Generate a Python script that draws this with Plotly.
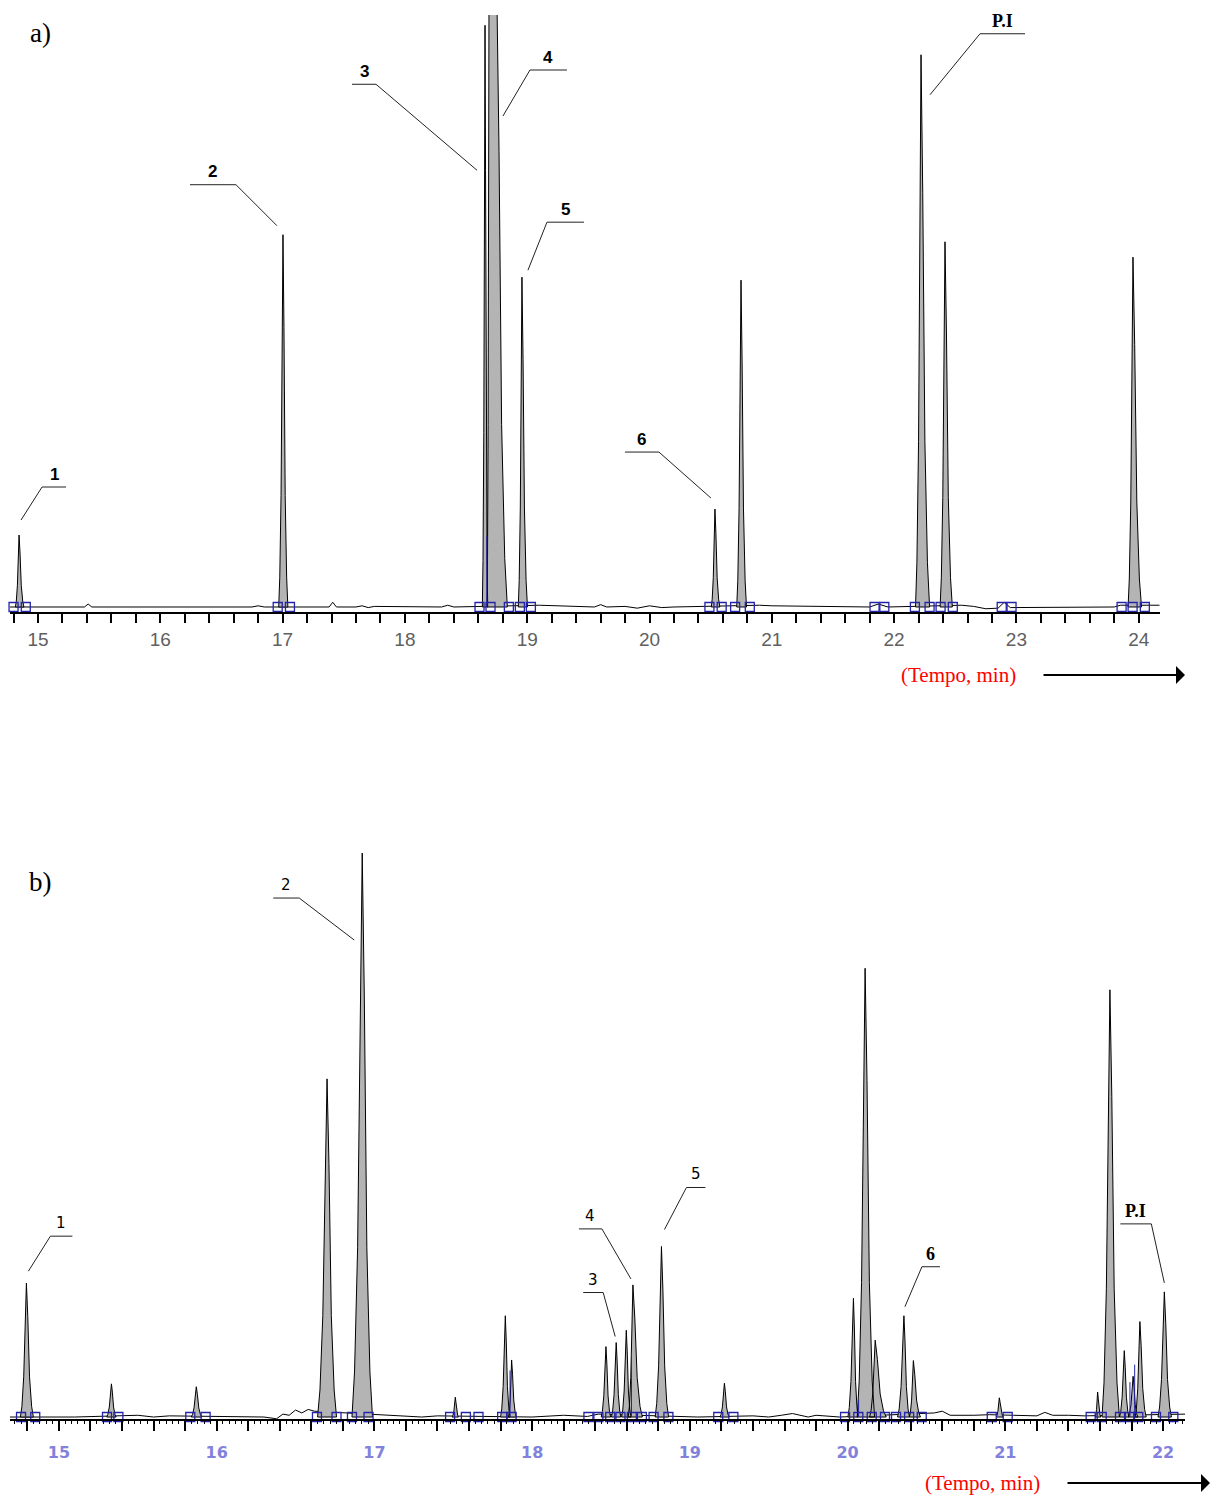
import plotly.graph_objects as go

W, H = 1211, 1500

# ---------------- Panel a) data (retention time in min, relative intensity) ----------------
a_peak_t   = [14.845, 17.003, 18.655, 18.720, 18.957, 20.535, 20.748, 22.220, 22.416, 23.953]
a_peak_h   = [12.2, 63.1, 98.6, 103.0, 55.9, 16.6, 55.4, 93.6, 61.9, 59.3]
a_peak_wl  = [0.030, 0.035, 0.022, 0.016, 0.030, 0.030, 0.035, 0.045, 0.040, 0.040]
a_peak_wr  = [0.040, 0.040, 0.022, 0.085, 0.045, 0.040, 0.045, 0.070, 0.060, 0.070]
a_peak_top = [0, 0, 0, 0.065, 0, 0, 0, 0, 0, 0]

a_base_t = [14.77, 15.38, 15.41, 15.44, 16.75, 16.80, 16.85, 17.38, 17.41, 17.44, 17.60, 17.65,
            17.70, 17.75, 18.30, 18.35, 18.40, 19.10, 19.55, 19.60, 19.65, 19.80, 19.90, 20.00,
            20.10, 20.20, 20.90, 21.00, 21.80, 21.87, 21.95, 22.55, 22.65, 22.75, 22.85, 22.90,
            22.95, 23.80, 23.85, 24.17]
a_base_y = [0, 0, 0.5, 0, 0, 0.2, 0, 0, 0.8, 0, 0, 0.2,
            -0.1, 0.1, 0, 0.3, 0, 0.3, 0, 0.4, 0, 0.1, -0.2, 0.2,
            -0.1, 0, 0.3, 0.2, 0, 0.5, 0, 0.3, 0.1, -0.3, -0.2, 0.8,
            -0.1, 0, 0.3, 0.3]

a_box_t = [14.80, 14.90, 16.96, 17.06, 18.61, 18.70, 18.85, 18.94, 19.03, 20.49, 20.59, 20.70,
           20.82, 21.84, 21.92, 22.17, 22.29, 22.38, 22.48, 22.88, 22.96, 23.86, 23.95, 24.05]
a_drop_t = [18.67]
a_drop_h = [12.0]

a_tick_vals = [15, 16, 17, 18, 19, 20, 21, 22, 23, 24]
a_tick_labels = ["15", "16", "17", "18", "19", "20", "21", "22", "23", "24"]

# ---------------- Panel b) data ----------------
b_peak_t  = [14.794, 15.333, 15.871, 16.700, 16.923, 17.513, 17.830, 17.870, 18.468, 18.533,
             18.597, 18.639, 18.820, 19.219, 20.037, 20.111, 20.175, 20.357, 20.417, 20.962,
             21.585, 21.663, 21.754, 21.810, 21.853, 22.008]
b_peak_h  = [23.0, 5.7, 5.2, 58.1, 96.9, 3.4, 17.4, 9.8, 12.1, 12.8,
             14.9, 22.7, 29.3, 5.8, 20.4, 77.1, 13.2, 17.4, 9.7, 3.3,
             4.3, 73.4, 11.4, 7.0, 16.4, 21.5]
b_peak_wl = [0.038, 0.030, 0.032, 0.060, 0.065, 0.020, 0.030, 0.020, 0.030, 0.030,
             0.030, 0.030, 0.040, 0.028, 0.035, 0.050, 0.035, 0.040, 0.025, 0.020,
             0.015, 0.050, 0.030, 0.030, 0.030, 0.040]
b_peak_wr = [0.044, 0.030, 0.035, 0.060, 0.065, 0.020, 0.030, 0.030, 0.030, 0.030,
             0.030, 0.060, 0.045, 0.030, 0.030, 0.060, 0.070, 0.035, 0.045, 0.025,
             0.020, 0.060, 0.030, 0.030, 0.040, 0.045]
b_peak_top = [0] * len(b_peak_t)

b_base_t = [14.69, 15.10, 15.50, 15.60, 15.70, 16.30, 16.38, 16.42, 16.46, 16.50, 16.54, 16.58,
            16.62, 17.10, 17.30, 17.40, 18.00, 18.20, 18.35, 18.42, 19.05, 19.40, 19.50, 19.58,
            19.65, 19.75, 19.80, 19.95, 20.55, 20.60, 20.65, 20.80, 20.90, 21.05, 21.20, 21.25,
            21.30, 21.40, 21.50, 22.14]
b_base_y = [0, 0, 0.3, 0, 0.2, 0, -0.3, 0.5, 0.3, 1.2, 0.7, 1.3,
            1.0, 0.3, 0, 0.2, 0, 0.3, 0.1, 0.5, 0, 0.2, 0, 0.3,
            0.6, 0, 0.3, 0, 0.7, 1.0, 0.3, 0.3, 0.4, 0.3, 0.2, 0.8,
            0.3, 0.3, 0.2, 0.5]

b_box_t = [14.76, 14.85, 15.305, 15.377, 15.833, 15.93, 16.636, 16.76, 16.858, 16.963,
           17.48, 17.58, 17.66, 17.81, 17.87, 18.357, 18.42, 18.495, 18.56, 18.632,
           18.696, 18.77, 18.864, 19.18, 19.276, 19.984, 20.068, 20.153, 20.237, 20.307,
           20.39, 20.47, 20.914, 21.015, 21.541, 21.611, 21.727, 21.79, 21.843, 21.955, 22.065]
b_drop_t = [17.86, 18.63, 20.07, 21.79, 21.82]
b_drop_h = [8.0, 11.0, 3.0, 6.0, 9.0]

b_tick_vals = [15, 16, 17, 18, 19, 20, 21, 22]
b_tick_labels = ["15", "16", "17", "18", "19", "20", "21", "22"]

# ---------------- layout geometry (pixels) ----------------
A_XDOM = (10, 1160); A_XR = (14.771, 24.174); A_YDOM = (612, 15); A_YR = (-0.85, 100.34)
B_XDOM = (10, 1185); B_XR = (14.69, 22.139);  B_YDOM = (1419, 835); B_YR = (-0.34, 100.0)

# peak outline profile (style): fraction of half-width vs. fraction of height
PROFILE_W = [1.0, 0.75, 0.45, 0.2, 0.0]
PROFILE_H = [0.0, 0.08, 0.3, 0.75, 1.0]


def mapper(xdom, xr, ydom, yr):
    def f(t, h):
        h = min(h, yr[1])
        x = xdom[0] + (t - xr[0]) / (xr[1] - xr[0]) * (xdom[1] - xdom[0])
        y = ydom[0] - (h - yr[0]) / (yr[1] - yr[0]) * (ydom[0] - ydom[1])
        return x, y
    return f


map_a = mapper(A_XDOM, A_XR, A_YDOM, A_YR)
map_b = mapper(B_XDOM, B_XR, B_YDOM, B_YR)


def peak_polys(ts, hs, wls, wrs, tops):
    xs, ys = [], []
    for t, h, wl, wr, tp in zip(ts, hs, wls, wrs, tops):
        L, R = t - tp / 2, t + tp / 2
        for fw, fh in zip(PROFILE_W, PROFILE_H):
            xs.append(L - fw * wl); ys.append(fh * h)
        for fw, fh in zip(reversed(PROFILE_W), reversed(PROFILE_H)):
            xs.append(R + fw * wr); ys.append(fh * h)
        xs += [L - wl, None]; ys += [0, None]
    return xs, ys


def drop_lines(ts, hs):
    xs, ys = [], []
    for t, h in zip(ts, hs):
        xs += [t, t, None]
        ys += [0, h, None]
    return xs, ys


fig = go.Figure()

GRAY = "#b4b4b4"
BLUE = "#2424a8"

for (xa, ya, bt, by, pt, ph, pwl, pwr, ptop, boxt, dt, dh, msize) in [
    ("x", "y", a_base_t, a_base_y, a_peak_t, a_peak_h, a_peak_wl, a_peak_wr, a_peak_top, a_box_t, a_drop_t, a_drop_h, 9),
    ("x2", "y2", b_base_t, b_base_y, b_peak_t, b_peak_h, b_peak_wl, b_peak_wr, b_peak_top, b_box_t, b_drop_t, b_drop_h, 9),
]:
    fig.add_trace(go.Scatter(x=bt, y=by, mode="lines", line=dict(color="black", width=1),
                             xaxis=xa, yaxis=ya, showlegend=False, hoverinfo="skip"))
    px_, py_ = peak_polys(pt, ph, pwl, pwr, ptop)
    fig.add_trace(go.Scatter(x=px_, y=py_, mode="lines", fill="toself", fillcolor=GRAY,
                             line=dict(color="black", width=1), xaxis=xa, yaxis=ya,
                             showlegend=False, hoverinfo="skip"))
    dx_, dy_ = drop_lines(dt, dh)
    fig.add_trace(go.Scatter(x=dx_, y=dy_, mode="lines", line=dict(color=BLUE, width=1),
                             xaxis=xa, yaxis=ya, showlegend=False, hoverinfo="skip"))
    fig.add_trace(go.Scatter(x=boxt, y=[0] * len(boxt), mode="markers",
                             marker=dict(symbol="square-open", size=msize, color=BLUE, line=dict(width=1.3)),
                             xaxis=xa, yaxis=ya, showlegend=False, hoverinfo="skip", cliponaxis=False))

# invisible trace for overlay tick axis
fig.add_trace(go.Scatter(x=[None], y=[None], xaxis="x3", yaxis="y2", showlegend=False, hoverinfo="skip"))

# ---------------- peak labels with leader lines ----------------
LABEL_A_FONT = dict(family="Liberation Sans", size=17, color="black", weight="bold")
LABEL_A_PI = dict(family="Liberation Serif", size=18, color="black", weight="bold")
LABEL_B_FONT = dict(family="DejaVu Sans", size=15, color="black")
LABEL_B_SERIF = dict(family="Liberation Serif", size=18, color="black", weight="bold")

# (text, peak index, tip offset from apex px, elbow offset from tip px, bar length px, font)
labels_a = [
    ("1", 0, (2, -15), (21, -33), 24, LABEL_A_FONT),
    ("2", 1, (-6, -9), (-41, -41), -46, LABEL_A_FONT),
    ("3", 2, (-8, 145), (-101, -86), -24, LABEL_A_FONT),
    ("4", 3, (10, 101), (27, -46), 37, LABEL_A_FONT),
    ("5", 4, (6, -7), (19, -48), 37, LABEL_A_FONT),
    ("6", 5, (-4, -11), (-52, -46), -34, LABEL_A_FONT),
    ("P.I", 7, (9, 40), (50, -61), 45, LABEL_A_PI),
]
labels_b = [
    ("1", 0, (2, -12), (22, -35), 22, LABEL_B_FONT),
    ("2", 4, (-8, 87), (-55, -42), -26, LABEL_B_FONT),
    ("3", 9, (-1, -6), (-12, -44), -20, LABEL_B_FONT),
    ("4", 11, (-2, -6), (-29, -50), -23, LABEL_B_FONT),
    ("5", 12, (3, -17), (22, -42), 19, LABEL_B_FONT),
    ("6", 17, (1, -9), (17, -40), 18, LABEL_B_SERIF),
    ("P.I", 25, (0, -9), (-13, -59), -31, LABEL_B_SERIF),
]

shapes = []
annotations = []


def P(x, y):
    return x / W, 1 - y / H


for labels, mp, ts, hs in [(labels_a, map_a, a_peak_t, a_peak_h), (labels_b, map_b, b_peak_t, b_peak_h)]:
    for text, idx, tip, elb, bar, font in labels:
        ax_, ay_ = mp(ts[idx], hs[idx])
        tx, ty = ax_ + tip[0], ay_ + tip[1]
        ex, ey = tx + elb[0], ty + elb[1]
        bx = ex + bar
        for (x0, y0, x1, y1) in [(tx, ty, ex, ey), (ex, ey, bx, ey)]:
            p0 = P(x0, y0); p1 = P(x1, y1)
            shapes.append(dict(type="line", xref="paper", yref="paper", x0=p0[0], y0=p0[1],
                               x1=p1[0], y1=p1[1], line=dict(color="#222222", width=1)))
        cx, cy = P((ex + bx) / 2, ey - 13)
        annotations.append(dict(text=text, x=cx, y=cy, xref="paper", yref="paper", showarrow=False,
                                xanchor="center", yanchor="middle", font=font))

# panel letters
for txt, (x, y) in [("a)", (40, 33)), ("b)", (40, 882))]:
    px, py = P(x, y)
    annotations.append(dict(text=txt, x=px, y=py, xref="paper", yref="paper", showarrow=False,
                            xanchor="center", yanchor="middle",
                            font=dict(family="Liberation Serif", size=27, color="black")))

# axis titles with arrows
for (tx, ty), (a0, a1) in [((958, 675), (1042, 1185)), ((982, 1483), (1066, 1210))]:
    px, py = P(tx, ty)
    annotations.append(dict(text="(Tempo, min)", x=px, y=py, xref="paper", yref="paper", showarrow=False,
                            xanchor="center", yanchor="middle",
                            font=dict(family="Liberation Serif", size=21, color="#ff0000")))
    hx, hy = P(a1, ty)
    annotations.append(dict(text="", x=hx, y=hy, xref="paper", yref="paper", showarrow=True,
                            ax=-(a1 - a0), ay=0, arrowhead=1, arrowsize=1.5, arrowwidth=2,
                            arrowcolor="black", standoff=0))

fig.update_layout(
    width=W, height=H, margin=dict(l=0, r=0, t=0, b=0),
    paper_bgcolor="white", plot_bgcolor="white",
    showlegend=False,
    shapes=shapes, annotations=annotations,
    xaxis=dict(domain=[A_XDOM[0] / W, A_XDOM[1] / W], range=list(A_XR), anchor="y",
               showline=True, linecolor="black", linewidth=1.5, showgrid=False, zeroline=False,
               tickmode="array", tickvals=a_tick_vals, ticktext=a_tick_labels,
               ticks="outside", ticklen=9, tickcolor="black", tickwidth=1.5,
               tickfont=dict(family="Liberation Sans", size=19, color="#606060"),
               minor=dict(dtick=0.2, tick0=15, ticks="outside", ticklen=9, tickcolor="black",
                          tickwidth=1.5, showgrid=False)),
    yaxis=dict(domain=[1 - A_YDOM[0] / H, 1 - A_YDOM[1] / H], range=list(A_YR), anchor="x",
               showline=False, showgrid=False, zeroline=False, showticklabels=False, ticks=""),
    xaxis2=dict(domain=[B_XDOM[0] / W, B_XDOM[1] / W], range=list(B_XR), anchor="y2",
                showline=True, linecolor="black", linewidth=1.5, showgrid=False, zeroline=False,
                tickmode="array", tickvals=b_tick_vals, ticktext=b_tick_labels,
                ticks="outside", ticklen=10, tickcolor="black", tickwidth=1.5,
                ticklabelstandoff=8,
                tickfont=dict(family="DejaVu Sans", size=16, color="#8282dc", weight="bold"),
                minor=dict(dtick=0.2, tick0=15, ticks="outside", ticklen=10, tickcolor="black",
                           tickwidth=1.5, showgrid=False)),
    xaxis3=dict(overlaying="x2", anchor="y2", side="bottom", range=list(B_XR),
                showline=False, showgrid=False, zeroline=False, showticklabels=False,
                tickmode="linear", tick0=15, dtick=0.04, ticks="outside", ticklen=4, tickcolor="black"),
    yaxis2=dict(domain=[1 - B_YDOM[0] / H, 1 - B_YDOM[1] / H], range=list(B_YR), anchor="x2",
                showline=False, showgrid=False, zeroline=False, showticklabels=False, ticks=""),
)

fig.write_html("out.html")
